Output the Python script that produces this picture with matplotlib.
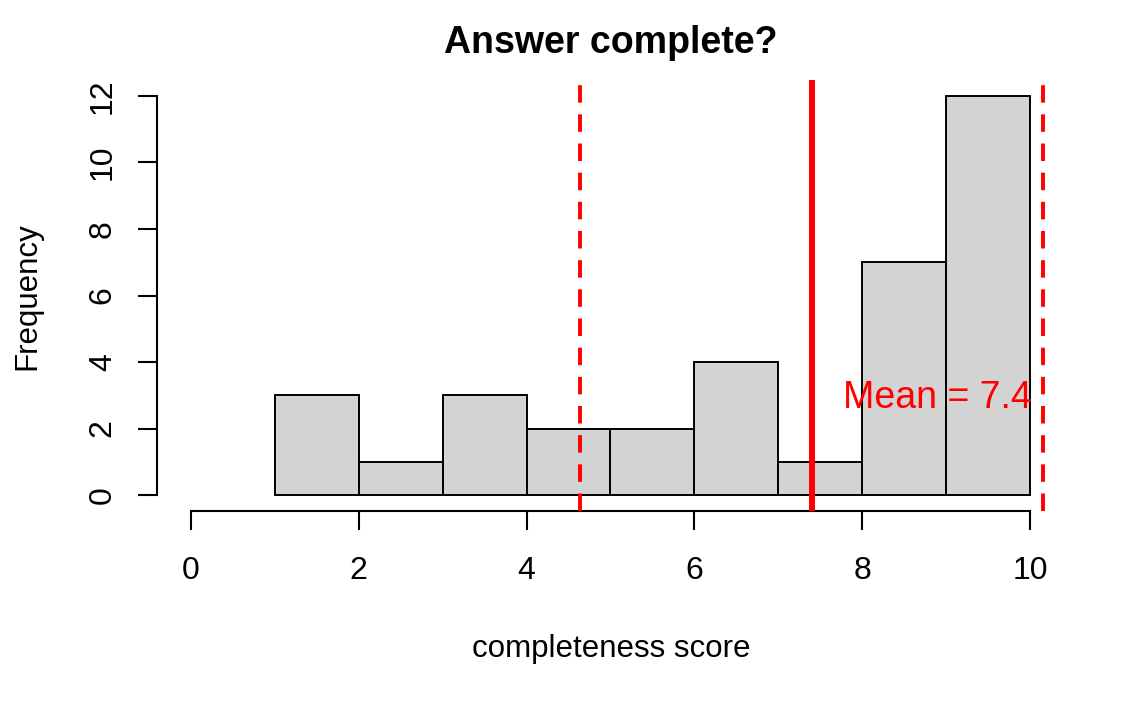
import matplotlib.pyplot as plt
import numpy as np

plt.rcParams['font.family'] = ['Liberation Sans', 'DejaVu Sans']

# histogram of completeness scores
bin_edges = [1, 2, 3, 4, 5, 6, 7, 8, 9, 10]
counts = [3, 1, 3, 2, 2, 4, 1, 7, 12]
score_mean = 7.4
score_sd = 2.76
x_ticks = [0, 2, 4, 6, 8, 10]
y_ticks = [0, 2, 4, 6, 8, 10, 12]

W, H = 1146, 708
fig = plt.figure(figsize=(W / 100, H / 100), dpi=100)
ax = fig.add_axes([157.4 / W, 1 - 511 / H, (1063.6 - 157.4) / W, (511 - 80) / H])

ax.bar(bin_edges[:-1], counts, width=np.diff(bin_edges), align='edge',
       color='#d3d3d3', edgecolor='black', linewidth=1.4, zorder=2)

ax.set_xlim(-0.4, 10.4)
ax.set_ylim(-0.48, 12.48)

# mean and +/- 1 sd lines
ax.axvline(score_mean, color='red', linewidth=4.3, zorder=3)
for v in (score_mean - score_sd, score_mean + score_sd):
    ax.axvline(v, color='red', linewidth=2.8, linestyle=(0, (4.5, 3)), zorder=3)
ax.text(10.02, 2.92, f'Mean = {score_mean}', color='red', fontsize=27,
        ha='right', va='center', zorder=4)

# R style detached axes
for s in ('top', 'right'):
    ax.spines[s].set_visible(False)
ax.spines['bottom'].set_bounds(0, 10)
ax.spines['left'].set_bounds(0, 12)
ax.spines['bottom'].set_linewidth(1.5)
ax.spines['left'].set_linewidth(1.5)
ax.set_xticks(x_ticks)
ax.set_yticks(y_ticks)
ax.set_yticklabels([str(t) for t in y_ticks], rotation=90, va='center')
ax.tick_params(axis='both', length=13.5, width=1.5, labelsize=23)
ax.tick_params(axis='x', pad=19)
ax.tick_params(axis='y', pad=15)

fig.text(611 / W, 1 - 43 / H, 'Answer complete?', fontsize=27, fontweight='bold',
         ha='center', va='center')
fig.text(611 / W, 1 - 649 / H, 'completeness score', fontsize=22.5,
         ha='center', va='center')
fig.text(27 / W, 1 - 296 / H, 'Frequency', fontsize=22.5, rotation=90,
         ha='center', va='center')

fig.savefig('out.png', dpi=100)
